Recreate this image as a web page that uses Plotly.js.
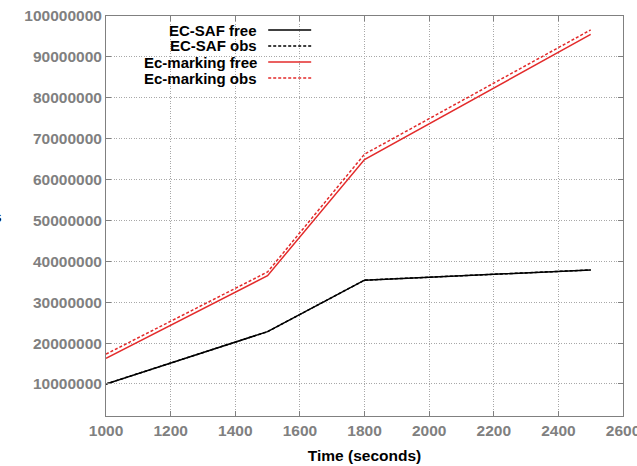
<!DOCTYPE html>
<html><head><meta charset="utf-8">
<script src="https://cdn.plot.ly/plotly-3.0.1.min.js"></script>
<style>html,body{margin:0;padding:0;background:#fff;overflow:hidden}#c{width:637px;height:466px}</style>
</head><body><div id="c"></div>
<script>
const time = [1000, 1500, 1800, 2500];
const ecsafFree = [10000000, 22800000, 35400000, 37900000];
const ecsafObs = [10000000, 22800000, 35400000, 37900000];
const ecmFree = [16300000, 36500000, 64900000, 95500000];
const ecmObs = [17300000, 37400000, 66200000, 96600000];
const seriesNames = ["EC-SAF free", "EC-SAF obs", "Ec-marking free", "Ec-marking obs"];
const yTicks = [10000000, 20000000, 30000000, 40000000, 50000000, 60000000, 70000000, 80000000, 90000000, 100000000];
const xTicks = [1000, 1200, 1400, 1600, 1800, 2000, 2200, 2400, 2600];

const RED = "#e32b2b";
const styles = [
  {color: "#000000", dash: "solid"},
  {color: "#000000", dash: "3px,2px"},
  {color: RED, dash: "solid"},
  {color: RED, dash: "3px,2px"}
];
const ys = [ecsafFree, ecsafObs, ecmFree, ecmObs];
const traces = ys.map((y, i) => ({
  x: time, y: y, type: "scatter", mode: "lines", name: seriesNames[i],
  line: {color: styles[i].color, width: 1.5, dash: styles[i].dash},
  showlegend: false
}));

const FONT = "Liberation Sans, Arial, Helvetica, sans-serif";
const L = 105.7, R = 623, T = 16, B = 416;
const pw = R - L, ph = B - T;
const px = v => (v - L) / pw;
const py = v => (B - v) / ph;

const annotations = [], shapes = [];
const rows = [30, 46, 62, 78];
seriesNames.forEach((n, i) => {
  annotations.push({xref: "paper", yref: "paper", x: px(259), y: py(rows[i]),
    xanchor: "right", yanchor: "middle", text: n, showarrow: false,
    font: {family: FONT, size: 15, color: "#000", weight: "bold"}});
  shapes.push({type: "line", xref: "paper", yref: "paper",
    x0: px(268), x1: px(311), y0: py(rows[i]), y1: py(rows[i]),
    line: {color: styles[i].color, width: 1.5, dash: styles[i].dash}});
});
annotations.push({xref: "paper", yref: "paper", x: px(4), y: py(217),
  xanchor: "right", yanchor: "middle", text: "s", showarrow: false,
  font: {family: FONT, size: 15.5, color: "#000000", weight: "bold"}});

const axisCommon = {
  showline: true, linecolor: "#808080", linewidth: 1, mirror: "ticks",
  ticks: "inside", ticklen: 5, tickcolor: "#808080",
  showgrid: true, gridcolor: "#a8a8a8", griddash: "1px,1.5px", gridwidth: 1,
  zeroline: false, ticklabeloverflow: "allow",
  tickfont: {family: FONT, size: 15.5, color: "#808080", weight: "bold"}
};

const layout = {
  width: 637, height: 466,
  margin: {l: L, r: 637 - R, t: T, b: 466 - B, pad: 0},
  paper_bgcolor: "#fff", plot_bgcolor: "#fff",
  xaxis: Object.assign({}, axisCommon, {
    range: [1000, 2600], tickvals: xTicks, tickformat: "d",
    title: {text: "Time (seconds)", standoff: 12,
      font: {family: FONT, size: 15.5, color: "#000", weight: "bold"}}
  }),
  yaxis: Object.assign({}, axisCommon, {
    range: [2170000, 100000000], tickvals: yTicks, tickformat: "d"
  }),
  annotations: annotations, shapes: shapes, showlegend: false
};

Plotly.newPlot("c", traces, layout, {displayModeBar: false, staticPlot: true});
</script></body></html>
